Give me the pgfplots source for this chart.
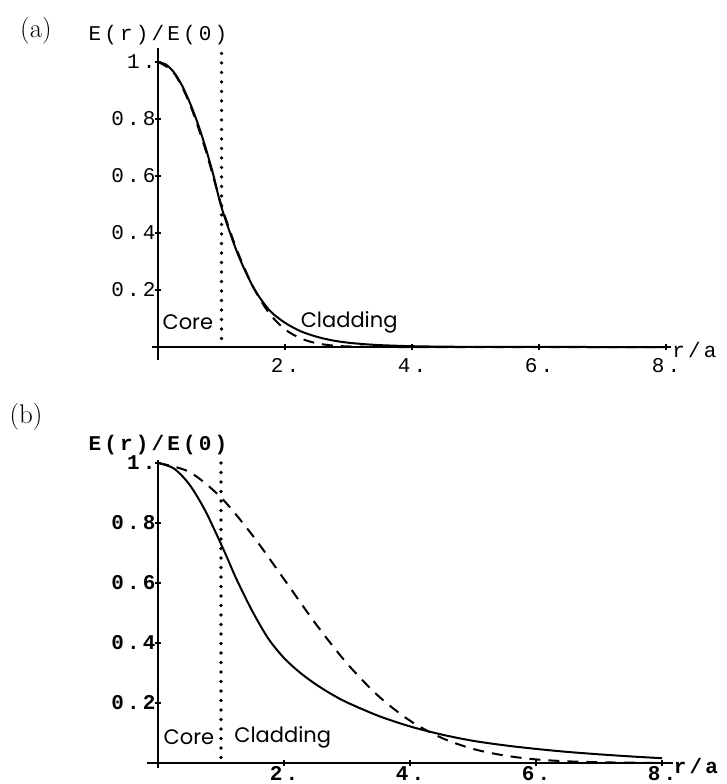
\documentclass[border=0pt]{standalone}
\usepackage{fontspec}
\setmonofont{Liberation Mono}[LetterSpace=15]
\newfontfamily\regionfont{Poppins}
\usepackage{pgfplots}
\usepackage{pgfplotstable}
\pgfplotsset{compat=1.18}

% (a) exact mode profile and its Gaussian approximation
\pgfplotstableread{
r E
0 1.000
0.125 0.991
0.25 0.964
0.375 0.919
0.5 0.858
0.625 0.785
0.75 0.699
0.875 0.601
1.0 0.490
1.25 0.330
1.5 0.210
1.75 0.130
2.0 0.085
2.25 0.055
2.5 0.036
2.75 0.023
3.0 0.015
3.25 0.010
3.5 0.0065
4.0 0.0028
4.5 0.0012
5.0 0.0005
6.0 0.0001
7.0 0.0
8.0 0.0
}\solidA

\pgfplotstableread{
r E
0 1.000
0.25 0.962
0.5 0.853
0.75 0.691
1.0 0.496
1.25 0.336
1.5 0.210
1.75 0.119
2.0 0.062
2.25 0.030
2.5 0.013
2.75 0.0052
3.0 0.0019
3.5 0.0002
4.0 0.0
5.0 0.0
6.0 0.0
7.0 0.0
8.0 0.0
}\dashA

% (b) weakly guiding case
\pgfplotstableread{
r E
0 1.000
0.25 0.982
0.5 0.928
0.75 0.841
1.0 0.730
1.1 0.683
1.25 0.611
1.5 0.505
1.75 0.415
2.0 0.350
2.25 0.302
2.5 0.263
2.75 0.230
3.0 0.202
3.5 0.157
4.0 0.122
4.5 0.095
5.0 0.074
5.5 0.059
6.0 0.047
6.5 0.037
7.0 0.029
7.5 0.022
8.0 0.016
}\solidB

\pgfplotstableread{
r E
0 1.000
0.5 0.970
1.0 0.885
1.5 0.759
2.0 0.613
2.5 0.465
3.0 0.332
3.5 0.223
4.0 0.141
4.5 0.084
5.0 0.047
5.5 0.025
6.0 0.012
6.5 0.0056
7.0 0.0025
7.5 0.0010
8.0 0.0004
}\dashB

\pgfplotsset{
  fiber/.style={
    anchor=origin,
    axis lines=middle,
    axis line style={-, line width=1.6pt},
    clip=false,
    xtick={2,4,6,8}, xticklabels={2.,4.,6.,8.},
    ytick={0.2,0.4,0.6,0.8,1}, yticklabels={0.2,0.4,0.6,0.8,1.},
    tick align=center, major tick length=6pt,
    tick style={line width=1.2pt, black},
    yticklabel style={xshift=4pt},
  },
  solidcurve/.style={black, line width=2pt, smooth},
  dashcurve/.style={black, line width=2pt, smooth, dash pattern=on 11pt off 8pt},
  boundary/.style={black, line width=3.6pt, line cap=round, dash pattern=on 0pt off 9.5pt},
}

\begin{document}
\begin{tikzpicture}
\path[use as bounding box] (0pt,0pt) rectangle (726pt,-784pt);

\node[font=\fontsize{27}{30}\selectfont] at (36pt,-31pt) {(a)};
\node[font=\fontsize{27}{30}\selectfont] at (26pt,-417pt) {(b)};

\begin{axis}[fiber,
  at={(158pt,-347pt)},
  x=63.5pt, y=285pt,
  xmin=-0.09, xmax=8.08, ymin=-0.046, ymax=1.05,
  ticklabel style={font=\fontsize{21}{21}\ttfamily},
  xticklabel style={yshift=-5pt},
]
\addplot[boundary] coordinates {(1,1.03) (1,0.005)};
\addplot[dashcurve] table {\dashA};
\addplot[solidcurve] table {\solidA};
\node[font=\regionfont\fontsize{21}{21}\selectfont] at (axis cs:0.47,0.088) {Core};
\node[font=\regionfont\fontsize{21}{21}\selectfont] at (axis cs:3.01,0.088) {Cladding};
\node[font=\fontsize{21}{21}\ttfamily] at (axis cs:0,1.095) {E(r)/E(0)};
\node[font=\fontsize{21}{21}\ttfamily, anchor=west, inner sep=1pt, yshift=-3pt] at (axis cs:8.08,0) {r/a};
\end{axis}

\begin{axis}[fiber,
  at={(158pt,-763pt)},
  x=63pt, y=300pt,
  xmin=-0.18, xmax=8.17, ymin=-0.017, ymax=1.01,
  ticklabel style={font=\fontsize{21}{21}\ttfamily\bfseries},
  xticklabel style={yshift=3pt},
]
\addplot[boundary] coordinates {(1,1.0) (1,0.015)};
\addplot[dashcurve] table {\dashB};
\addplot[solidcurve] table {\solidB};
\node[font=\regionfont\fontsize{21}{21}\selectfont] at (axis cs:0.49,0.087) {Core};
\node[font=\regionfont\fontsize{21}{21}\selectfont] at (axis cs:1.98,0.087) {Cladding};
\node[font=\fontsize{21}{21}\ttfamily\bfseries] at (axis cs:0,1.06) {E(r)/E(0)};
\node[font=\fontsize{21}{21}\ttfamily\bfseries, anchor=west, inner sep=1pt, yshift=-3pt] at (axis cs:8.17,0) {r/a};
\end{axis}
\end{tikzpicture}
\end{document}
